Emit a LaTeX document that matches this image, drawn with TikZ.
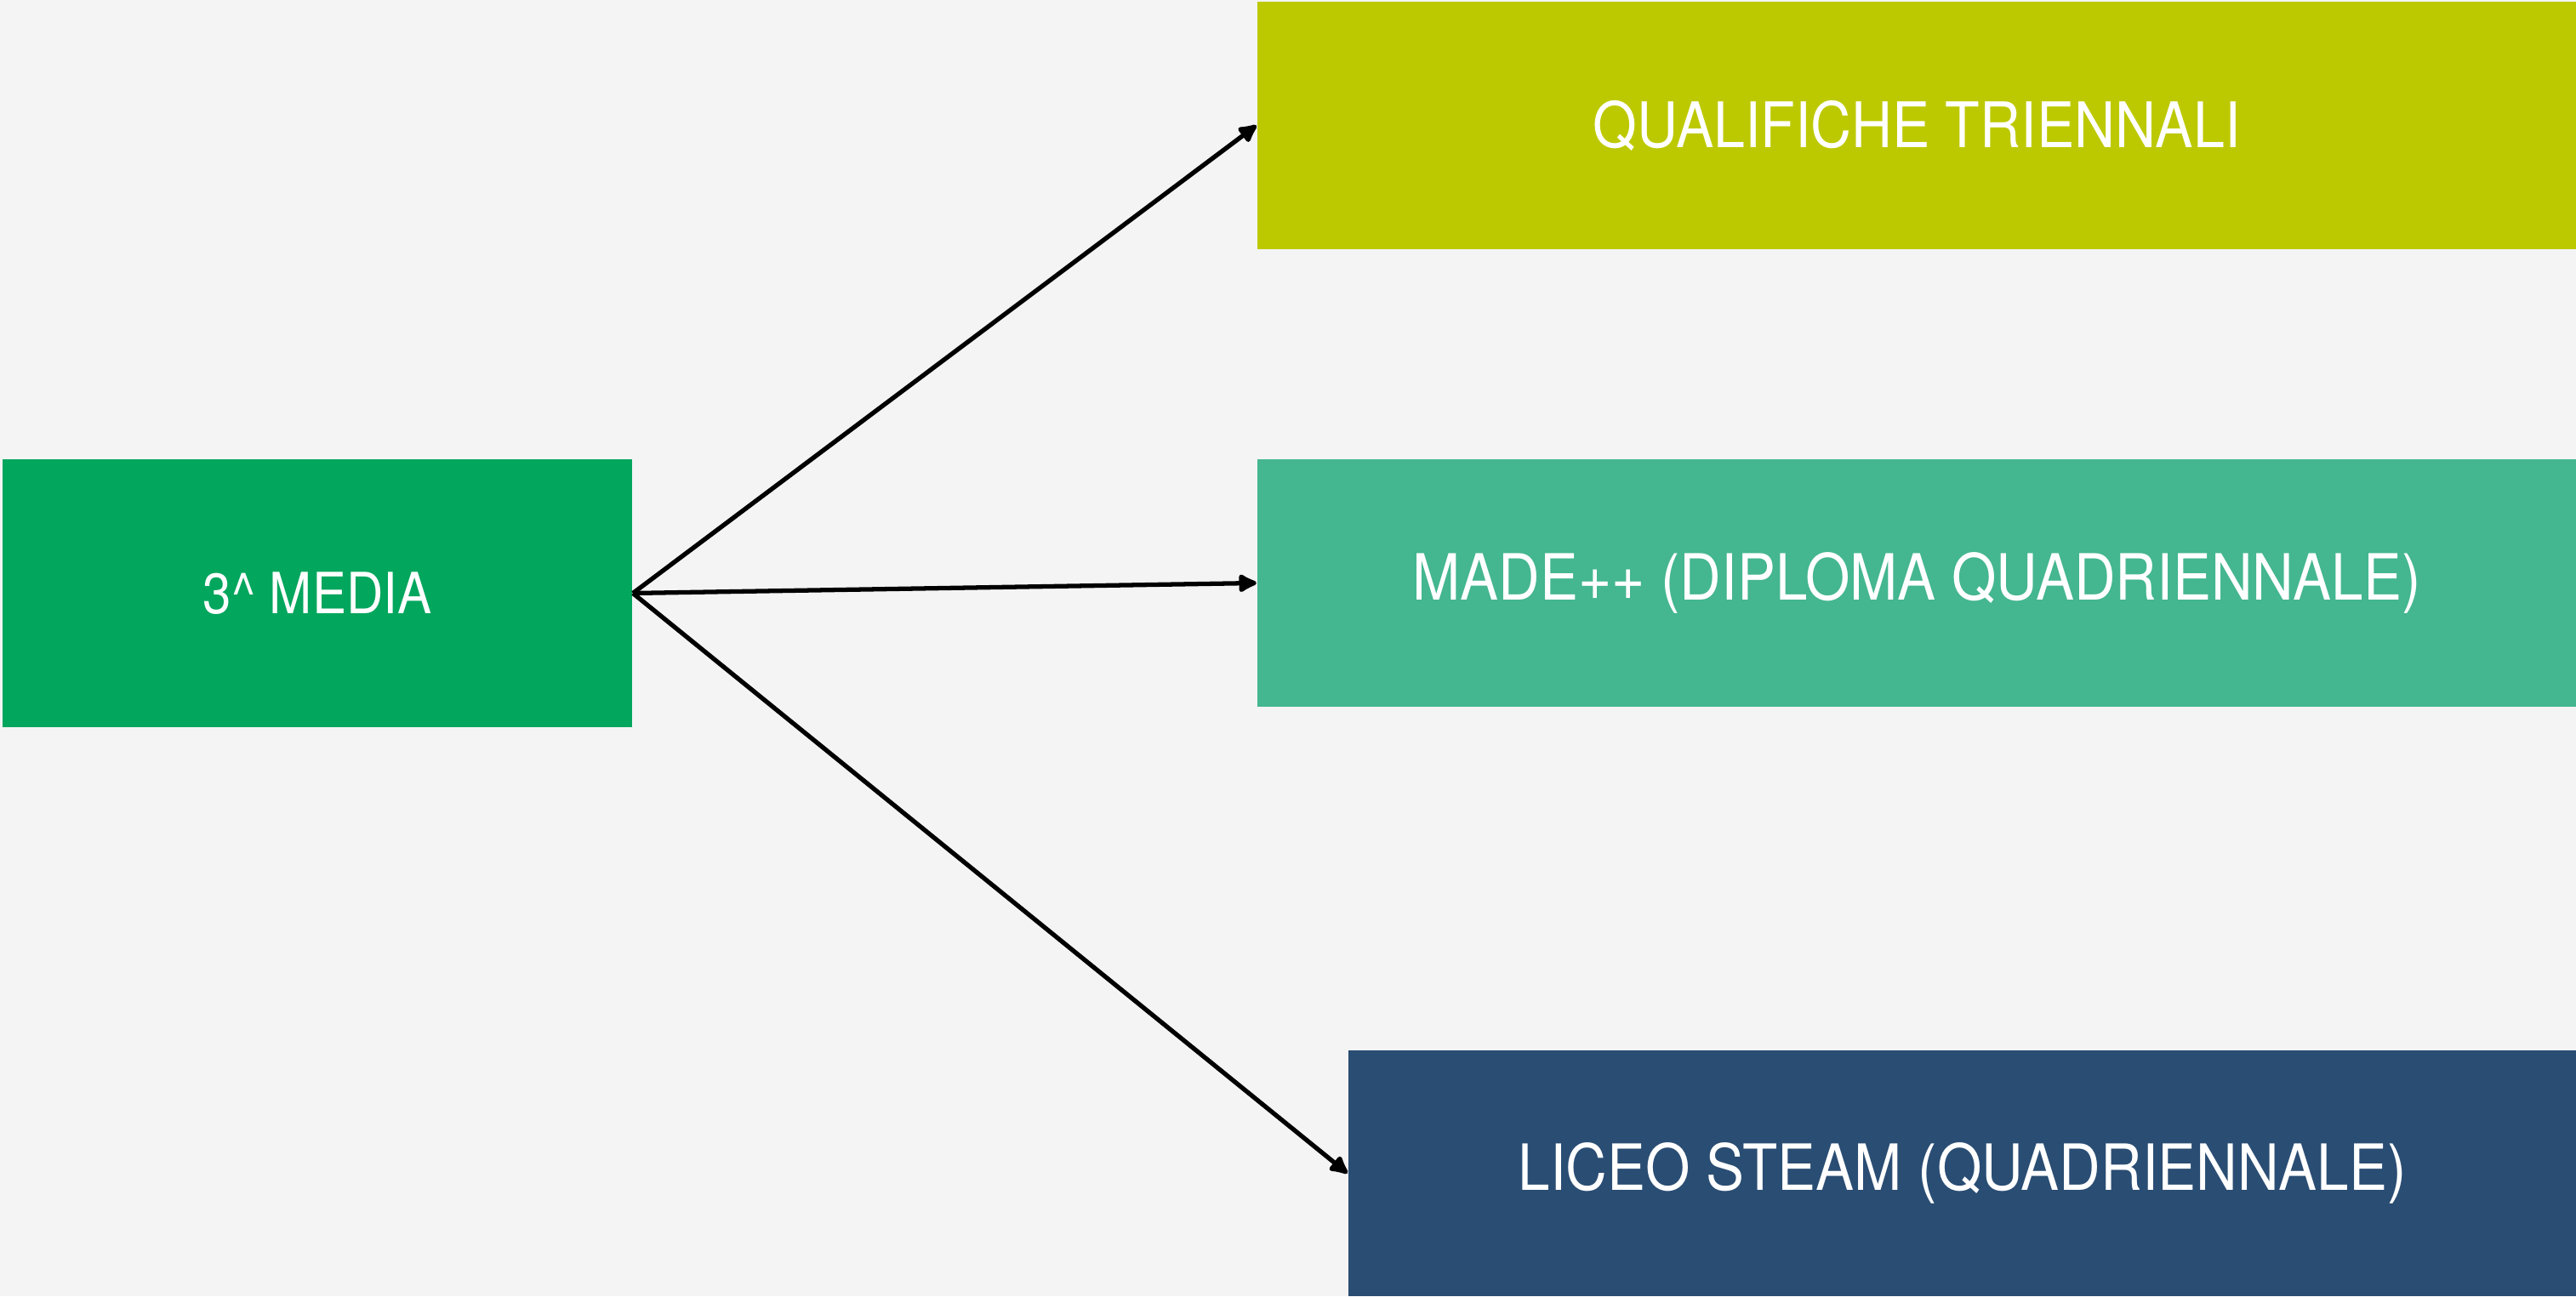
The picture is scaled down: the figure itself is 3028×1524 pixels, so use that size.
\documentclass[tikz,border=0pt]{standalone}
\usepackage{fontspec}
\setmainfont{TeX Gyre Heros}[FakeStretch=0.9]
\usetikzlibrary{arrows.meta}

\definecolor{bgray}{RGB}{244,244,244}
\definecolor{mediagreen}{RGB}{2,166,93}
\definecolor{qualyellow}{RGB}{189,201,0}
\definecolor{madegreen}{RGB}{68,182,144}
\definecolor{liceoblue}{RGB}{42,77,115}

\begin{document}
\begin{tikzpicture}[x=0.01cm,y=0.01cm,
    box/.style={rectangle, inner sep=0pt, text=white, font=\fontsize{21}{25}\selectfont},
    link/.style={line width=1.5pt, -{Latex[length=2.6mm,width=2.6mm,round]}}]

    % Background and page size
    \fill[bgray] (0,0) rectangle (3028,1524);
    \useasboundingbox (0,0) rectangle (3028,1524);

    % Centres of the boxes
    \coordinate (M) at (373,826.5);
    \coordinate (Q) at (2253,1376.5);
    \coordinate (D) at (2253,838.5);
    \coordinate (L) at (2306.5,144.5);

    % Starting box
    \node[box, fill=mediagreen, minimum width=7.40cm, minimum height=3.15cm,
          font=\fontsize{19}{23}\selectfont] (media) at (M) {3\^{} MEDIA};

    % The three paths
    \node[box, fill=qualyellow, minimum width=15.50cm, minimum height=2.91cm] (qual) at (Q) {QUALIFICHE TRIENNALI};
    \node[box, fill=madegreen, minimum width=15.50cm, minimum height=2.91cm,
          font=\fontsize{21.3}{25}\selectfont] (made) at (D) {MADE++ (DIPLOMA QUADRIENNALE)};
    \node[box, fill=liceoblue, minimum width=14.43cm, minimum height=2.89cm,
          font=\fontsize{21.3}{25}\selectfont] (liceo) at (L) {LICEO STEAM (QUADRIENNALE)};

    % Arrows from the starting box
    \draw[link] (media.east) -- (qual.west);
    \draw[link] (media.east) -- (made.west);
    \draw[link] (media.east) -- (liceo.west);

\end{tikzpicture}
\end{document}
